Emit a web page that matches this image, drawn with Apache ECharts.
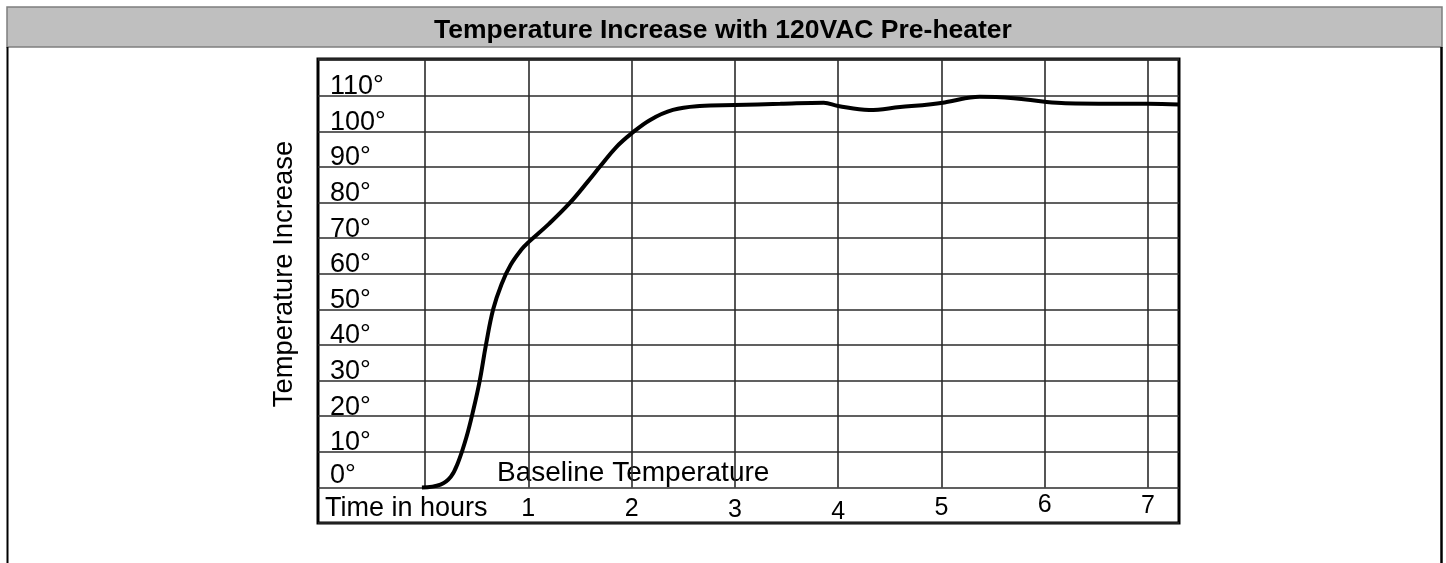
<!DOCTYPE html>
<html>
<head>
<meta charset="utf-8">
<script src="https://cdn.jsdelivr.net/npm/echarts@6/dist/echarts.min.js"></script>
<style>
html,body{margin:0;padding:0;background:#fff;}
#chart{width:1446px;height:563px;}
</style>
</head>
<body>
<div id="chart"></div>
<script>
// ---- data ----
var titleText = 'Temperature Increase with 120VAC Pre-heater';
var yAxisTitle = 'Temperature Increase';
var xAxisTitle = 'Time in hours';
var baselineText = 'Baseline Temperature';
var xTickValues = [1, 2, 3, 4, 5, 6, 7];
var xTickLabels = ['1', '2', '3', '4', '5', '6', '7'];
var xGridValues = [0, 1, 2, 3, 4, 5, 6, 7];
var yTickValues = [0, 10, 20, 30, 40, 50, 60, 70, 80, 90, 100, 110];
var yTickLabels = ['0°', '10°', '20°', '30°', '40°', '50°', '60°', '70°', '80°', '90°', '100°', '110°'];
var hours = [-0.03, 0.15, 0.25, 0.32, 0.4, 0.47, 0.53, 0.59, 0.66, 0.74, 0.83, 0.94, 1.0, 1.2, 1.4, 1.58, 1.7, 1.85, 2.0, 2.18, 2.4, 2.66, 3.0, 3.44, 3.86, 4.0, 4.3, 4.6, 4.9, 5.05, 5.37, 5.7, 6.0, 6.2, 7.0, 7.3];
var tempIncrease = [0, 0.8, 3, 7, 14, 22, 30, 40, 50, 57, 62.5, 67, 68.8, 74, 79.8, 86, 90.3, 95.5, 99.4, 103.2, 106, 107.1, 107.4, 107.7, 108.0, 107.1, 106, 106.8, 107.6, 108.2, 109.7, 109.3, 108.3, 107.9, 107.7, 107.5];

// ---- styles ----
var X_MIN = -1.036, X_MAX = 7.3, Y_MIN = -10, Y_MAX = 120.3;
var FONT = '"Liberation Sans", Arial, Helvetica, sans-serif';
// small hand-placed vertical nudges of the hour labels in the original (px, + = down)
var xLabelNudge = [1, 1, 2, 4, 0, -3, -2];

var xRich = {};
xLabelNudge.forEach(function (d, i) {
  xRich['n' + i] = {
    fontFamily: FONT, fontSize: 25, color: '#000',
    padding: d >= 0 ? [2 * d, 0, 0, 0] : [0, 0, -2 * d, 0]
  };
});
var yRich = {
  y: {fontFamily: FONT, fontSize: 27, color: '#000', padding: [0, 0, 18, 0]},
  y0: {fontFamily: FONT, fontSize: 27, color: '#000', padding: [0, 0, 23, 0]}
};

var chart = echarts.init(document.getElementById('chart'), null, {renderer: 'canvas'});

var lineData = hours.map(function (h, i) { return [h, tempIncrease[i]]; });
var vLines = xGridValues.map(function (x) {
  return [{coord: [x, 0]}, {coord: [x, Y_MAX]}];
});

var option = {
  backgroundColor: '#fff',
  animation: false,
  title: {
    text: titleText,
    left: 'center',
    top: 12,
    textStyle: {fontFamily: FONT, fontSize: 26.5, fontWeight: 'bold', color: '#000'}
  },
  grid: {
    left: 318, top: 59, right: 267, bottom: 40,
    show: true, borderColor: '#000', borderWidth: 3, backgroundColor: 'transparent',
    containLabel: false
  },
  xAxis: {
    type: 'value', min: X_MIN, max: X_MAX,
    axisLine: {show: false}, axisTick: {show: false}, splitLine: {show: false},
    axisLabel: {
      customValues: xTickValues,
      inside: true, margin: 14.5,
      formatter: function (v) {
        var i = xTickValues.indexOf(v);
        return i >= 0 ? '{n' + i + '|' + xTickLabels[i] + '}' : '';
      },
      rich: xRich,
      fontFamily: FONT, fontSize: 25, color: '#000', verticalAlign: 'middle'
    }
  },
  yAxis: {
    type: 'value', min: Y_MIN, max: Y_MAX, interval: 10,
    axisLine: {show: false}, axisTick: {show: false},
    splitLine: {show: true, lineStyle: {color: '#2b2b2b', width: 1.6}},
    axisLabel: {
      inside: true, margin: 12,
      formatter: function (v) {
        var i = yTickValues.indexOf(Math.round(v));
        if (i < 0 || Math.abs(v - yTickValues[i]) > 1e-6) return '';
        return '{' + (i === 0 ? 'y0' : 'y') + '|' + yTickLabels[i] + '}';
      },
      rich: yRich,
      fontFamily: FONT, fontSize: 27, color: '#000', align: 'left', verticalAlign: 'middle'
    }
  },
  graphic: [
    {type: 'rect', shape: {x: 7, y: 7, width: 1435, height: 40}, style: {fill: '#bfbfbf', stroke: '#7f7f7f', lineWidth: 1.5}, z: -1},
    {type: 'line', shape: {x1: 7.5, y1: 47, x2: 7.5, y2: 563}, style: {stroke: '#000', lineWidth: 2}},
    {type: 'line', shape: {x1: 1441.5, y1: 47, x2: 1441.5, y2: 563}, style: {stroke: '#000', lineWidth: 2.5}},
    {type: 'text', x: 325, y: 522, style: {text: xAxisTitle, font: '27px ' + FONT, fill: '#000', verticalAlign: 'bottom', align: 'left'}},
    {type: 'text', x: 497, y: 487, style: {text: baselineText, font: '28px ' + FONT, fill: '#000', verticalAlign: 'bottom', align: 'left'}},
    {type: 'text', x: 284, y: 274, rotation: Math.PI / 2, style: {text: yAxisTitle, font: '27.4px ' + FONT, fill: '#000', verticalAlign: 'middle', align: 'center'}}
  ],
  series: [{
    type: 'line',
    data: lineData,
    smooth: 0.4,
    showSymbol: false,
    lineStyle: {color: '#000', width: 4},
    z: 5,
    markLine: {
      silent: true, symbol: ['none', 'none'],
      label: {show: false},
      lineStyle: {color: '#2b2b2b', width: 1.6, type: 'solid'},
      data: vLines,
      z: 1
    }
  }]
};
chart.setOption(option);
</script>
</body>
</html>
